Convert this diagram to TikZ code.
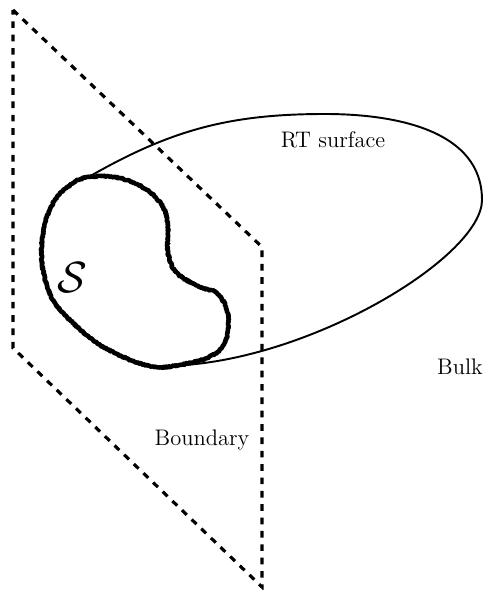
\documentclass[tikz,border=0pt]{standalone}
\usepackage{amsmath}
\usepackage{tikz}
\usetikzlibrary{positioning, calc, decorations.pathmorphing}

\begin{document}
\begin{tikzpicture}[
  edge/.style={dash pattern=on 3.8pt off 3.8pt, line width=1.8pt},
  rt/.style={line width=1.1pt},
  blob/.style={line width=2.6pt, line join=round,
    decorate, decoration={random steps, segment length=0.5pt, amplitude=0.4pt}},
  lbl/.style={font=\fontsize{12.8}{15}\selectfont, inner sep=1pt}
]
  \useasboundingbox (0,0) rectangle (9.74,11.8);

  % Boundary plane
  \coordinate (tl) at (0.26,11.6);
  \coordinate (tr) at (5.24,6.86);
  \coordinate (br) at (5.24,0.06);
  \coordinate (bl) at (0.26,4.84);
  \draw[edge] (tl) -- (tr) -- (br) -- (bl) -- cycle;

  % Region S
  \draw[blob] plot[smooth cycle, tension=0.6] coordinates {
    (1.8,8.26) (2.4,8.24) (2.94,8.0) (3.26,7.66) (3.36,7.26) (3.36,6.74)
    (3.54,6.34) (4.0,6.06) (4.34,5.94) (4.54,5.6) (4.56,5.2) (4.44,4.86)
    (4.14,4.64) (3.6,4.5) (3.14,4.46) (2.6,4.6) (1.94,4.94) (1.4,5.4)
    (1.06,5.8) (0.86,6.4) (0.84,7.0) (0.94,7.46) (1.14,7.86) (1.46,8.14)};

  % RT surface
  \coordinate (rtA) at (1.72,8.23);
  \coordinate (rtB) at (3.7,4.5);
  \coordinate (rtTop) at (6.5,9.52);
  \coordinate (rtRight) at (9.64,7.8);
  \draw[rt] (rtA) to[out=30,in=180] (rtTop) to[out=0,in=90] (rtRight)
    .. controls (9.64,6.7) and (6.4,4.7) .. (rtB);

  % Labels
  \node[lbl] (rtlbl) at (6.66,9.0) {RT surface};
  \node[lbl] (bdry) at (4.04,3.0) {Boundary};
  \node[lbl] (bulk) at (9.2,4.46) {Bulk};
  \node[font=\fontsize{23}{26}\selectfont, inner sep=0pt] (S) at (1.44,6.24) {$\mathcal{S}$};
\end{tikzpicture}
\end{document}
